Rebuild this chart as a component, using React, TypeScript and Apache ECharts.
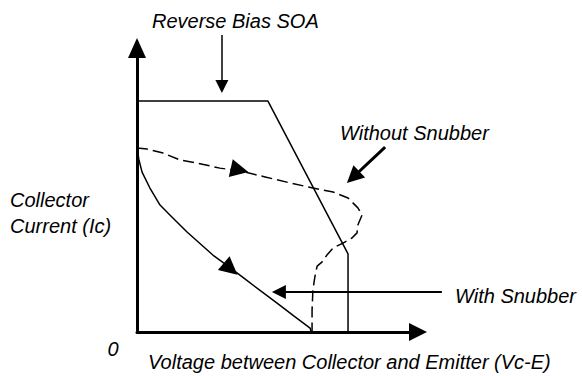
import React, { useEffect, useRef } from "react";
import * as echarts from "echarts";

// Schematic units: both axes run 0..100 (arbitrary Vce / Ic scale)
const soaBoundary: number[][] = [
  [0, 81.3],
  [46.6, 81.3],
  [75.1, 27.5],
  [75.1, 0],
];

const withoutSnubber: number[][] = [
  [0, 64.8], [3.6, 64.4], [9.3, 63.0], [15.3, 60.6], [21.4, 59.5],
  [29.5, 57.7], [36.7, 56.7], [45.6, 54.6], [54.4, 52.5], [62.6, 50.7],
  [69.8, 49.3], [75.1, 47.2], [78.6, 43.7], [80.1, 41.2], [78.6, 37.7],
  [78.3, 34.9], [76.5, 33.1], [73.3, 31.3], [69.8, 29.6], [67.6, 27.1],
  [65.8, 24.6], [64.1, 23.2], [63.3, 19.4], [62.6, 14.8], [62.3, 7.7],
  [62.3, 0],
];

const withSnubber: number[][] = [
  [0, 64.8], [0.7, 60.6], [1.8, 56.3], [4.6, 50.7], [8.2, 44.7],
  [11.7, 41.2], [17.8, 35.2], [27.0, 27.1], [32.4, 23.2], [38.4, 18.7],
  [44.5, 14.1], [50.2, 9.9], [55.9, 5.6], [61.6, 1.4], [62.0, 0],
];

// Pointer arrows: [from, to]
const soaPointer: number[][] = [[30.2, 104.6], [30.2, 86.4]];
const withoutPointer: number[][] = [[88.3, 65.1], [76.9, 54.5]];
const withPointer: number[][] = [[108.5, 14.1], [50.5, 14.1]];
// Direction marks on the curves
const withoutDirection: number[][] = [[34.7, 57.4], [36.5, 57.0]];
const withDirection: number[][] = [[32.0, 23.3], [33.3, 22.2]];

const FONT = 'italic 20px "Liberation Sans", Arial, Helvetica, sans-serif';

function arrowSeries(coords: number[][], width: number, head: number[]) {
  return {
    type: "lines",
    coordinateSystem: "cartesian2d",
    clip: false,
    silent: true,
    symbol: ["none", "triangle"],
    symbolSize: head,
    lineStyle: { color: "#000", width, opacity: 1 },
    data: [{ coords }],
  };
}

export default function App() {
  const ref = useRef<HTMLDivElement>(null);

  useEffect(() => {
    if (!ref.current) return;
    const chart = echarts.init(ref.current, undefined, { renderer: "svg" });
    const text = (s: string, x: number, y: number, align = "left") => ({
      type: "text",
      x,
      y,
      silent: true,
      style: {
        text: s,
        font: FONT,
        fill: "#000",
        textAlign: align,
        textVerticalAlign: "middle",
      },
    });
    chart.setOption({
      animation: false,
      backgroundColor: "#fff",
      grid: { left: 137, right: 164, top: 48, bottom: 44 },
      xAxis: {
        type: "value",
        min: 0,
        max: 100,
        axisLine: {
          show: true,
          symbol: ["none", "triangle"],
          symbolSize: [18, 18],
          lineStyle: { color: "#000", width: 3 },
        },
        axisTick: { show: false },
        axisLabel: { show: false },
        splitLine: { show: false },
      },
      yAxis: {
        type: "value",
        min: 0,
        max: 100,
        axisLine: {
          show: true,
          symbol: ["none", "triangle"],
          symbolSize: [18, 20],
          lineStyle: { color: "#000", width: 3 },
        },
        axisTick: { show: false },
        axisLabel: { show: false },
        splitLine: { show: false },
      },
      graphic: [
        text("Reverse Bias SOA", 152, 21),
        text("Without Snubber", 340, 133),
        text("Collector", 10, 200),
        text("Current (Ic)", 10, 226),
        text("0", 113, 349, "center"),
        text("Voltage between Collector and Emitter (Vc-E)", 148, 362),
        text("With Snubber", 455, 296),
      ],
      series: [
        {
          type: "line",
          data: soaBoundary,
          symbol: "none",
          clip: false,
          lineStyle: { color: "#000", width: 1.5 },
        },
        {
          type: "line",
          data: withoutSnubber,
          symbol: "none",
          clip: false,
          lineStyle: { color: "#000", width: 1.5, type: [11, 5] },
        },
        {
          type: "line",
          data: withSnubber,
          symbol: "none",
          clip: false,
          lineStyle: { color: "#000", width: 1.5 },
        },
        arrowSeries(soaPointer, 1.5, [14, 13]),
        arrowSeries(withoutPointer, 3, [15, 17]),
        arrowSeries(withPointer, 2, [14, 14]),
        arrowSeries(withoutDirection, 1, [12, 18]),
        arrowSeries(withDirection, 1, [12, 18]),
      ],
    });
    return () => chart.dispose();
  }, []);

  return (
    <div
      ref={ref}
      style={{ position: "fixed", left: 0, top: 0, width: 582, height: 376 }}
    />
  );
}
